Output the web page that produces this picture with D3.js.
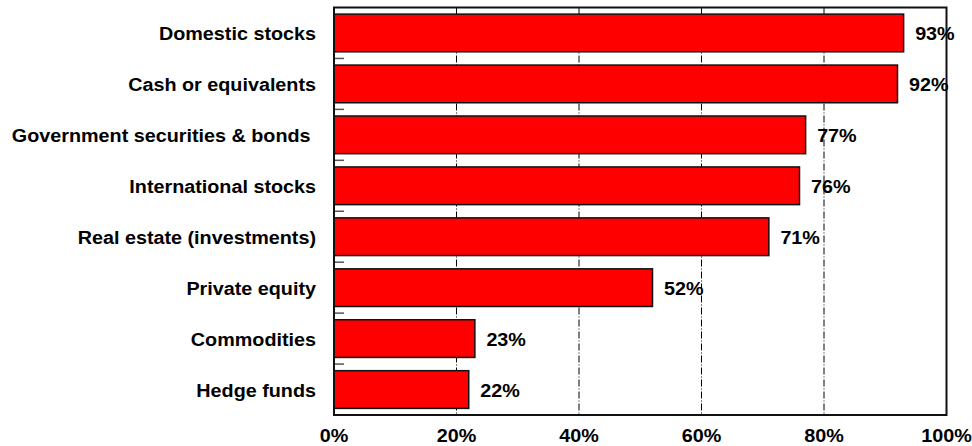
<!DOCTYPE html>
<html>
<head>
<meta charset="utf-8">
<script src="https://cdn.jsdelivr.net/npm/d3@7"></script>
<style>
  html, body { margin: 0; padding: 0; background: #fff; }
  svg text { font-family: "Liberation Sans", Arial, sans-serif; font-weight: bold; font-size: 17.5px; fill: #000; white-space: pre; }
</style>
</head>
<body>
<svg id="chart" width="972" height="446"></svg>
<script>
// Asset classes held, share of respondents (%)
const categories = [
  "Domestic stocks",
  "Cash or equivalents",
  "Government securities & bonds ",
  "International stocks",
  "Real estate (investments)",
  "Private equity",
  "Commodities",
  "Hedge funds"
];
const values = [93, 92, 77, 76, 71, 52, 23, 22];
const xTicks = [0, 20, 40, 60, 80, 100];

const svg = d3.select("#chart");
const plot = { left: 334, right: 946.5, top: 7.5, bottom: 415 };
const stretch = 1.13; // labels are set slightly wide

const x = d3.scaleLinear().domain([0, 100]).range([plot.left, plot.right]);
const y = d3.scaleBand().domain(categories).range([plot.top, plot.bottom])
  .paddingInner(0.26).paddingOuter(0.13);

// place a horizontally widened text label
function label(parent, tx, ty, str, anchor) {
  parent.append("g")
    .attr("transform", `translate(${tx},${ty}) scale(${stretch},1)`)
    .append("text")
    .attr("text-anchor", anchor)
    .text(str);
}

// vertical dash-dot gridlines
svg.append("g").selectAll("line")
  .data(xTicks.filter(t => t > 0 && t < 100))
  .join("line")
  .attr("x1", d => x(d)).attr("x2", d => x(d))
  .attr("y1", plot.top).attr("y2", plot.bottom)
  .attr("stroke", "#000").attr("stroke-width", 1)
  .attr("stroke-dasharray", "7,2,1,2");

// small category ticks on the inside of the left axis
const step = y.step();
const boundaries = d3.range(1, categories.length).map(i => y(categories[i]) - (step - y.bandwidth()) / 2);
svg.append("g").selectAll("line")
  .data(boundaries)
  .join("line")
  .attr("x1", plot.left).attr("x2", plot.left + 10)
  .attr("y1", d => d).attr("y2", d => d)
  .attr("stroke", "#555").attr("stroke-width", 1.5);

// bars
svg.append("g").selectAll("rect")
  .data(values)
  .join("rect")
  .attr("x", x(0))
  .attr("y", (d, i) => y(categories[i]))
  .attr("width", d => x(d) - x(0))
  .attr("height", y.bandwidth())
  .attr("fill", "#ff0000")
  .attr("stroke", "#111").attr("stroke-width", 1.5);

// frame
svg.append("rect")
  .attr("x", plot.left).attr("y", plot.top)
  .attr("width", plot.right - plot.left).attr("height", plot.bottom - plot.top)
  .attr("fill", "none").attr("stroke", "#111").attr("stroke-width", 2);

// category labels
const catG = svg.append("g");
categories.forEach((c, i) => {
  label(catG, 316, y(c) + y.bandwidth() / 2 + 7.1, c, "end");
});

// value labels
const valG = svg.append("g");
values.forEach((v, i) => {
  label(valG, x(v) + 11.5, y(categories[i]) + y.bandwidth() / 2 + 7.1, v + "%", "start");
});

// x axis tick labels
const axG = svg.append("g");
xTicks.forEach(t => {
  label(axG, x(t), 441.5, t + "%", "middle");
});
</script>
</body>
</html>
